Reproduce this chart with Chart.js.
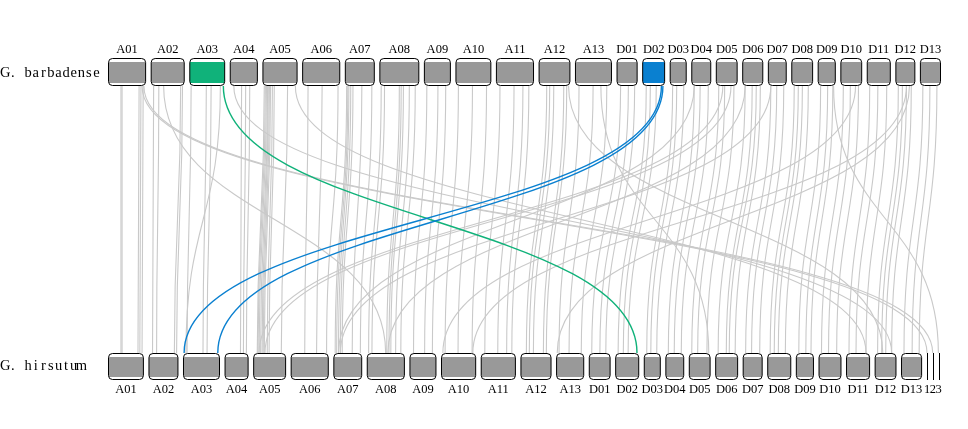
<!DOCTYPE html>
<html>
<head>
<meta charset="utf-8">
<script src="https://cdn.jsdelivr.net/npm/chart.js@4.4.0/dist/chart.umd.min.js"></script>
<style>
    html, body { margin: 0; padding: 0; background: #fff; }
    #wrap { width: 968px; height: 429px; position: relative; }
</style>
</head>
<body>
<div id="wrap"><canvas id="myChart"></canvas></div>
<script>
// хромосомы, длины в Мб
const TOP_NAME = 'G. barbadense';
const BOT_NAME = 'G. hirsutum';

const TOP_CHRS = ['A01','A02','A03','A04','A05','A06','A07','A08','A09','A10','A11','A12','A13',
    'D01','D02','D03','D04','D05','D06','D07','D08','D09','D10','D11','D12','D13'];
const TOP_LEN = [103, 92, 97, 76, 95, 103, 81, 108, 73, 97, 103, 86, 100,
    57, 62, 46, 54, 59, 57, 51, 59, 49, 59, 65, 54, 57];

const BOT_CHRS = ['A01','A02','A03','A04','A05','A06','A07','A08','A09','A10','A11','A12','A13',
    'D01','D02','D03','D04','D05','D06','D07','D08','D09','D10','D11','D12','D13','1','2','3'];
const BOT_LEN = [97, 81, 100, 65, 89, 103, 78, 103, 73, 95, 95, 84, 76,
    59, 65, 46, 51, 59, 62, 54, 65, 49, 62, 65, 59, 57, 3, 3, 3];

// коллинеарные блоки: [хромосома, позиция сверху, позиция снизу]
const PAIR_LINKS = [
    ['A01',35,35],['A01',38,38],['A01',84,81],['A01',89,86],['A01',95,92],
    ['A02',8,11],['A02',22,22],['A02',81,70],['A02',86,76],
    ['A03',5,11],['A03',46,54],['A03',59,65],
    ['A04',32,43],['A04',43,51],['A04',54,59],
    ['A05',5,11],['A05',8,13],['A05',11,16],['A05',14,20],['A05',16,24],['A05',19,27],
    ['A05',22,30],['A05',27,38],['A05',32,43],['A05',68,76],
    ['A06',16,38],['A06',54,70],['A06',97,97],
    ['A07',5,5],['A07',8,9],['A07',11,14],['A07',16,19],['A07',22,24],['A07',46,51],['A07',73,73],
    ['A08',5,5],['A08',14,14],['A08',54,54],['A08',59,60],['A08',65,65],['A08',81,78],['A08',97,92],
    ['A09',8,11],['A09',38,41],['A09',59,62],
    ['A10',8,11],['A10',46,46],['A10',84,84],
    ['A11',11,11],['A11',49,46],['A11',73,70],['A11',89,84],
    ['A12',22,16],['A12',30,24],['A12',41,35],['A12',68,62],['A12',76,70],
    ['A13',11,8],['A13',49,35],['A13',86,68],
    ['D01',11,8],['D01',32,30],['D01',49,46],
    ['D02',11,8],['D02',22,22],['D02',38,35],
    ['D03',8,8],['D03',19,19],['D03',38,35],
    ['D04',8,8],['D04',24,24],['D04',46,43],
    ['D05',8,8],['D05',24,24],['D05',49,49],
    ['D06',8,8],['D06',27,30],['D06',38,38],['D06',49,54],
    ['D07',8,8],['D07',24,24],['D07',43,46],
    ['D08',8,8],['D08',19,19],['D08',30,30],['D08',46,49],
    ['D09',8,8],['D09',27,27],['D09',41,41],
    ['D10',8,8],['D10',27,27],['D10',49,49],
    ['D11',8,8],['D11',30,27],['D11',54,54],
    ['D12',8,8],['D12',19,19],['D12',30,30],['D12',43,46],
    ['D13',8,8],['D13',27,30],['D13',46,49]
];

// перестройки: [сверху, позиция, снизу, позиция]
const CROSS_LINKS = [
    ['A01',92,'1',1],['A01',97,'2',1],['D09',43,'3',1],
    ['A02',35,'A08',51],['A04',11,'D12',46],['A05',89,'D11',54],
    ['A12',81,'D12',22],['D05',19,'A05',16],['D05',41,'A05',32],
    ['D07',8,'A07',19],['D10',41,'A10',5],['D12',38,'A13',3],
    ['D06',8,'A08',57],['D04',8,'A07',14],['A13',70,'D05',54],
    ['A03',84,'A03',8],['D12',30,'A10',86]
];

const GREEN_LINKS = [['A03',92,'D02',59]];
const BLUE_LINKS = [['D02',52,'A03',3],['D02',56,'A03',94]];

const GAP = 12.3;

function starts(lens) {
    let pos = 0;
    return lens.map(l => { const s = pos; pos += l + GAP; return s; });
}
const TOP_START = starts(TOP_LEN);
const BOT_START = starts(BOT_LEN);
const TOTAL = TOP_START[TOP_START.length - 1] + TOP_LEN[TOP_LEN.length - 1];

const topPos = (c, mb) => TOP_START[TOP_CHRS.indexOf(c)] + mb;
const botPos = (c, mb) => BOT_START[BOT_CHRS.indexOf(c)] + mb;

// вертикальная разметка (в единицах оси y)
const TOP_BOX = [0, 28], TOP_FILL = [4, 25];
const BOT_BOX = [295, 322], BOT_FILL = [299, 319];

const boxColors = { A03: '#10b27a', D02: '#0a80d0' };

function roundRect(ctx, x, y, w, h, r) {
    ctx.beginPath();
    ctx.moveTo(x + r, y);
    ctx.lineTo(x + w - r, y);
    ctx.quadraticCurveTo(x + w, y, x + w, y + r);
    ctx.lineTo(x + w, y + h - r);
    ctx.quadraticCurveTo(x + w, y + h, x + w - r, y + h);
    ctx.lineTo(x + r, y + h);
    ctx.quadraticCurveTo(x, y + h, x, y + h - r);
    ctx.lineTo(x, y + r);
    ctx.quadraticCurveTo(x, y, x + r, y);
    ctx.closePath();
}

const synteny = {
    id: 'synteny',
    beforeDraw(chart) {
        const ctx = chart.ctx;
        const xs = chart.scales.x, ys = chart.scales.y;
        const y1 = ys.getPixelForValue(TOP_BOX[1]);
        const y2 = ys.getPixelForValue(BOT_BOX[0]);
        const ym = (y1 + y2) / 2;

        ctx.save();
        ctx.fillStyle = '#fff';
        ctx.fillRect(0, 0, chart.width, chart.height);

        function link(a, b, color, w) {
            const xa = xs.getPixelForValue(a), xb = xs.getPixelForValue(b);
            ctx.beginPath();
            ctx.moveTo(xa, y1);
            ctx.bezierCurveTo(xa, ym, xb, ym, xb, y2);
            ctx.strokeStyle = color;
            ctx.lineWidth = w;
            ctx.stroke();
        }

        PAIR_LINKS.forEach(l => link(topPos(l[0], l[1]), botPos(l[0], l[2]), '#c9c9c9', 1.1));
        CROSS_LINKS.forEach(l => link(topPos(l[0], l[1]), botPos(l[2], l[3]), '#c9c9c9', 1.1));
        GREEN_LINKS.forEach(l => link(topPos(l[0], l[1]), botPos(l[2], l[3]), '#10b27a', 1.4));
        BLUE_LINKS.forEach(l => link(topPos(l[0], l[1]), botPos(l[2], l[3]), '#0a80d0', 1.4));

        function row(chrs, lens, st, box, fill, colors, labelY) {
            const bt = ys.getPixelForValue(box[0]), bb = ys.getPixelForValue(box[1]);
            const ft = ys.getPixelForValue(fill[0]), fb = ys.getPixelForValue(fill[1]);
            chrs.forEach((c, i) => {
                const x0 = xs.getPixelForValue(st[i]);
                const x1 = xs.getPixelForValue(st[i] + lens[i]);
                const w = x1 - x0;
                if (w < 3) {
                    const xc = Math.round((x0 + x1) / 2) + 0.5;
                    ctx.beginPath();
                    ctx.moveTo(xc, bt);
                    ctx.lineTo(xc, bb);
                    ctx.strokeStyle = '#000';
                    ctx.lineWidth = 1;
                    ctx.stroke();
                } else {
                    ctx.save();
                    roundRect(ctx, x0 + 0.5, bt + 0.5, w - 1, bb - bt - 1, 4);
                    ctx.fillStyle = '#fff';
                    ctx.fill();
                    ctx.clip();
                    ctx.fillStyle = (colors && colors[c]) || '#999999';
                    ctx.fillRect(x0, ft, w, fb - ft);
                    ctx.restore();
                    roundRect(ctx, x0 + 0.5, bt + 0.5, w - 1, bb - bt - 1, 4);
                    ctx.strokeStyle = '#000';
                    ctx.lineWidth = 1;
                    ctx.stroke();
                }
                ctx.fillStyle = '#000';
                ctx.font = '12.5px "Liberation Serif", "Times New Roman", serif';
                ctx.textAlign = 'center';
                ctx.textBaseline = 'middle';
                ctx.fillText(c, (x0 + x1) / 2, ys.getPixelForValue(labelY));
            });
        }

        row(TOP_CHRS, TOP_LEN, TOP_START, TOP_BOX, TOP_FILL, boxColors, -8);
        row(BOT_CHRS, BOT_LEN, BOT_START, BOT_BOX, BOT_FILL, null, 332);

        // подписи видов (моноширинно, по ячейкам)
        function species(text, yv) {
            ctx.save();
            ctx.font = '14.5px "Liberation Serif", serif';
            ctx.fillStyle = '#000';
            ctx.textAlign = 'center';
            ctx.textBaseline = 'middle';
            const y = ys.getPixelForValue(yv);
            const cell = 7.6;
            for (let i = 0; i < text.length; i++) {
                ctx.fillText(text[i], 1.5 + i * cell + cell / 2, y);
            }
            ctx.restore();
        }
        species(TOP_NAME, 15);
        species(BOT_NAME, 308);

        ctx.restore();
    }
};

new Chart(document.getElementById('myChart'), {
    type: 'scatter',
    data: { datasets: [] },
    options: {
        responsive: true,
        maintainAspectRatio: false,
        animation: false,
        layout: { padding: { left: 108, right: 27, top: 58, bottom: 49 } },
        plugins: { legend: { display: false }, tooltip: { enabled: false } },
        scales: {
            x: { type: 'linear', min: 0, max: TOTAL, display: false },
            y: { type: 'linear', min: 0, max: 322, reverse: true, display: false }
        }
    },
    plugins: [synteny]
});
</script>
</body>
</html>
